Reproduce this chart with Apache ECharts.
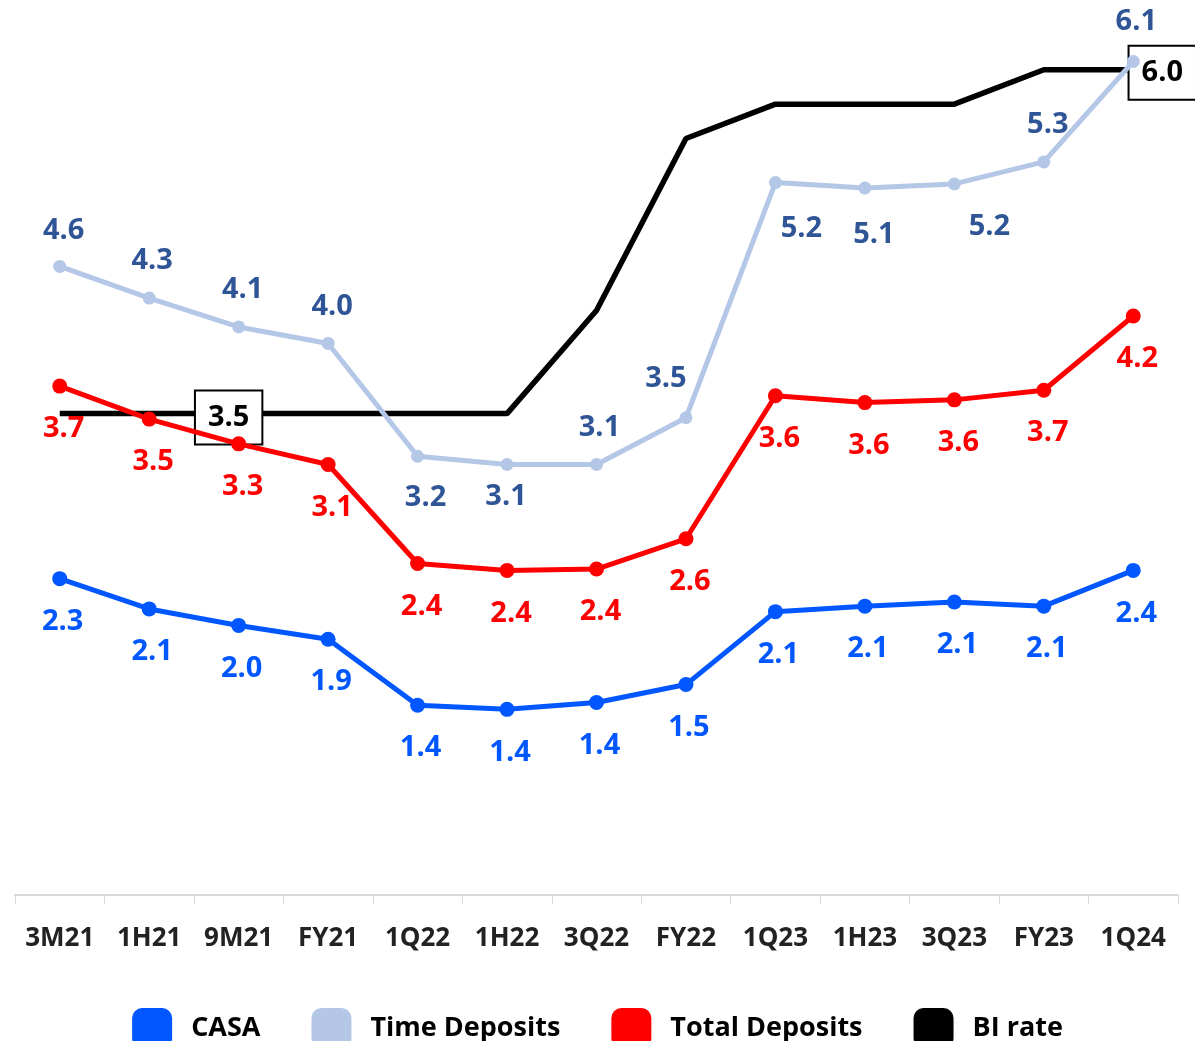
<!DOCTYPE html>
<html>
<head>
<meta charset="utf-8">
<script src="https://cdn.jsdelivr.net/npm/echarts@6/dist/echarts.min.js"></script>
<style>
html,body{margin:0;padding:0;background:#fff}
#divChart{width:1195px;height:1041px}
</style>
</head>
<body>
<div id="divChart"></div>
<script>
//data
var categories = ['3M21','1H21','9M21','FY21','1Q22','1H22','3Q22','FY22','1Q23','1H23','3Q23','FY23','1Q24']
var casa = [2.30, 2.08, 1.96, 1.86, 1.38, 1.35, 1.40, 1.53, 2.06, 2.10, 2.13, 2.10, 2.36]
var timeDeposits = [4.57, 4.34, 4.13, 4.01, 3.19, 3.13, 3.13, 3.47, 5.18, 5.14, 5.17, 5.33, 6.06]
var totalDeposits = [3.70, 3.46, 3.28, 3.13, 2.41, 2.36, 2.37, 2.59, 3.63, 3.58, 3.60, 3.67, 4.21]
var biRate = [3.5, 3.5, 3.5, 3.5, 3.5, 3.5, 4.25, 5.5, 5.75, 5.75, 5.75, 6.0, 6.0]
var biLabelIdx = [2, 12] //only these get a boxed label

//label placement (style only)
var tdOffsets = [[4,-36],[3,-37],[4,-37],[4,-37],[8,41],[-1,32],[3,-37],[-20,-39],[26,46],[9,47],[35,43],[4,-37],[3,-40]]
var biOffsets = {2:[-10,4], 12:[29,3]}

var FONT = '"Open Sans", "Noto Sans", sans-serif'
var fmt = p => Number(p.value).toFixed(1)
var lbl = (color, offset) => ({show:true, position:'inside', offset:offset, color:color,
  fontFamily:FONT, fontWeight:'bold', fontSize:29, formatter:fmt})

var lineSeries = (name, vals, color, symSize, lblColor, offFn) => ({
  name:name, type:'line', data:vals.map((v,i)=>({value:v, label:lbl(lblColor, offFn(i))})),
  symbol:'circle', symbolSize:symSize, showSymbol:true,
  itemStyle:{color:color}, lineStyle:{color:color, width:5},
  emphasis:{disabled:true}, animation:false
})

var opt_o = {
  animation:false,
  grid:{left:15, right:17, top:1, bottom:146, containLabel:false},
  xAxis:{type:'category', data:categories, boundaryGap:true,
    axisLine:{lineStyle:{color:'#d9d9d9', width:2}},
    axisTick:{show:true, length:9, lineStyle:{color:'#d9d9d9', width:1}},
    axisLabel:{color:'#222', fontFamily:FONT, fontWeight:'bold', fontSize:26, margin:31, interval:0}},
  yAxis:{type:'value', min:0, max:6.5, show:false, splitLine:{show:false}},
  legend:{top:1003, left:'center', itemWidth:40, itemHeight:40, itemGap:51, icon:'roundRect',
    textStyle:{color:'#000', fontFamily:FONT, fontWeight:'bold', fontSize:27, padding:[0,0,0,14]},
    data:['CASA','Time Deposits','Total Deposits','BI rate']},
  series:[
    {name:'BI rate', type:'line', z:1, symbol:'circle', symbolSize:0, showSymbol:true,
      itemStyle:{color:'#000'}, lineStyle:{color:'#000', width:5.5}, emphasis:{disabled:true},
      data:biRate.map((v,i)=>biLabelIdx.indexOf(i)<0 ? v : {value:v, label:{show:true, position:'inside',
        offset:biOffsets[i], formatter:fmt, color:'#000', fontFamily:FONT, fontWeight:'bold', fontSize:29,
        backgroundColor:'#fff', borderColor:'#000', borderWidth:2, padding:[12,12,11,12]}})},
    lineSeries('Time Deposits', timeDeposits, '#b4c7e7', 13, '#2f5597', i=>tdOffsets[i]),
    lineSeries('Total Deposits', totalDeposits, '#ff0000', 15, '#ff0000', i=>[4,43]),
    lineSeries('CASA', casa, '#0057ff', 15, '#0057ff', i=>[3,43])
  ]
}

var inst = echarts.init(document.getElementById('divChart'), null, {renderer:'canvas'})
inst.setOption(opt_o, true)
</script>
</body>
</html>
